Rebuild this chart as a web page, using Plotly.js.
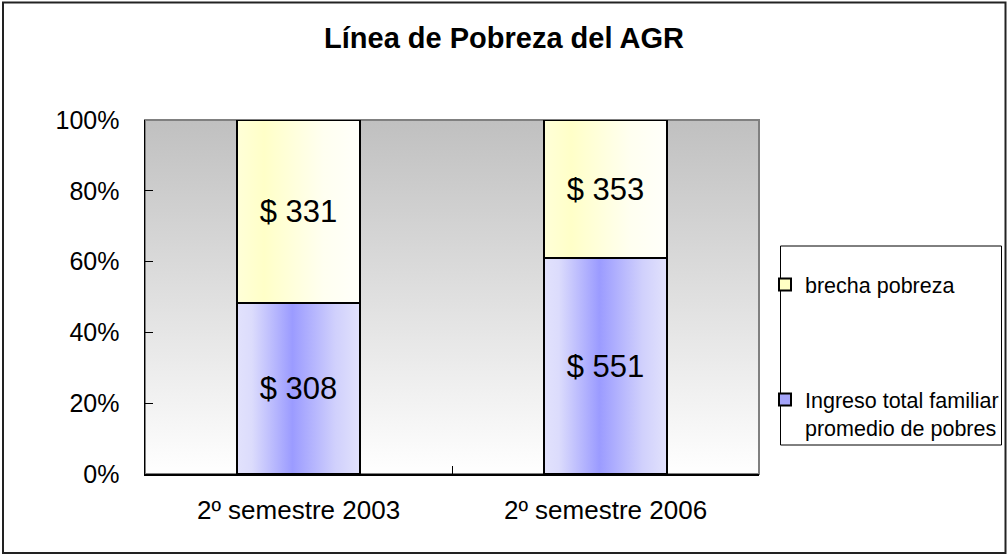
<!DOCTYPE html>
<html>
<head>
<meta charset="utf-8">
<script src="https://cdn.plot.ly/plotly-3.0.1.min.js"></script>
<style>
html,body{margin:0;padding:0;background:#fff;}
#chart{width:1008px;height:555px;}
</style>
</head>
<body>
<div id="chart"></div>
<script>
const categories = ['2º semestre 2003', '2º semestre 2006'];
const ingresoValues = [308, 551];
const brechaValues = [331, 353];
const seriesNames = ['Ingreso total familiar<br>promedio de pobres', 'brecha pobreza'];
const yTickVals = [0, 20, 40, 60, 80, 100];
const yTickText = ['0%', '20%', '40%', '60%', '80%', '100%'];

const FONT = '"Liberation Sans", Arial, sans-serif';

const traces = [
  {
    type: 'bar', name: seriesNames[0], x: categories, y: ingresoValues,
    text: ingresoValues.map(v => '$ ' + v),
    textposition: 'inside', insidetextanchor: 'middle', constraintext: 'none', textangle: 0,
    insidetextfont: {family: FONT, size: 31, color: '#000'},
    marker: {color: '#a4a4fa', line: {color: '#000', width: 2}},
    width: 0.4, legendgroup: 'b', legendrank: 2, hoverinfo: 'skip'
  },
  {
    type: 'bar', name: seriesNames[1], x: categories, y: brechaValues,
    text: brechaValues.map(v => '$ ' + v),
    textposition: 'inside', insidetextanchor: 'middle', constraintext: 'none', textangle: 0,
    insidetextfont: {family: FONT, size: 31, color: '#000'},
    marker: {color: '#ffffc4', line: {color: '#000', width: 2}},
    width: 0.4, legendgroup: 'a', legendrank: 1, hoverinfo: 'skip'
  }
];

const L = 145, R = 759, T = 120, B = 474;
const px = x => (x - L) / (R - L);
const py = y => (B - y) / (B - T);

const layout = {
  width: 1008, height: 555,
  margin: {l: L, r: 1008 - R, t: T, b: 555 - B, pad: 0, autoexpand: false},
  paper_bgcolor: '#ffffff',
  plot_bgcolor: '#e0e0e0',
  barmode: 'stack', barnorm: 'percent',
  font: {family: FONT, color: '#000'},
  title: {
    text: '<b>Línea de Pobreza del AGR</b>',
    font: {family: FONT, size: 29, color: '#000'},
    x: 0.5, xref: 'container', xanchor: 'center',
    y: 1 - 38 / 555, yref: 'container', yanchor: 'middle'
  },
  xaxis: {
    type: 'category', range: [-0.5, 1.5],
    showline: true, linecolor: '#000', linewidth: 1.5,
    ticks: 'inside', tickson: 'boundaries', ticklen: 8, tickcolor: '#000', tickwidth: 1,
    tickfont: {family: FONT, size: 26, color: '#000'},
    ticklabelstandoff: 12,
    showgrid: false, zeroline: false, fixedrange: true, automargin: false
  },
  yaxis: {
    range: [0, 100], tickvals: yTickVals, ticktext: yTickText,
    showline: true, linecolor: '#000', linewidth: 1.5,
    ticks: 'inside', ticklen: 8, tickcolor: '#000', tickwidth: 1,
    tickfont: {family: FONT, size: 25, color: '#000'},
    ticklabelstandoff: 19,
    showgrid: false, zeroline: false, fixedrange: true, automargin: false
  },
  showlegend: true,
  legend: {
    x: px(765), xanchor: 'left', y: py(264), yanchor: 'top',
    bgcolor: 'rgba(0,0,0,0)', borderwidth: 0,
    font: {family: FONT, size: 21.5, color: '#000'},
    traceorder: 'grouped', tracegroupgap: 84, valign: 'top'
  },
  shapes: [
    {type: 'rect', xref: 'paper', yref: 'paper', x0: 0, x1: 1, y0: 0, y1: 1,
     line: {color: '#808080', width: 2}, layer: 'below'},
    {type: 'rect', xref: 'paper', yref: 'paper', x0: px(780.5), x1: px(1001.5), y0: py(445), y1: py(246),
     line: {color: '#000', width: 1}, fillcolor: 'rgba(0,0,0,0)'},
    {type: 'rect', xref: 'paper', yref: 'paper', x0: px(3), x1: px(1005.5), y0: py(553), y1: py(2.5),
     line: {color: '#222', width: 2}, fillcolor: 'rgba(0,0,0,0)'}
  ],
  hovermode: false
};

Plotly.newPlot('chart', traces, layout, {displayModeBar: false, staticPlot: true}).then(gd => {
  const NS = 'http://www.w3.org/2000/svg';
  const svg = gd.querySelector('svg.main-svg');
  let defs = svg.querySelector('defs');
  if (!defs) { defs = document.createElementNS(NS, 'defs'); svg.insertBefore(defs, svg.firstChild); }
  function grad(id, stops, vertical) {
    const g = document.createElementNS(NS, 'linearGradient');
    g.setAttribute('id', id);
    g.setAttribute('x1', '0'); g.setAttribute('y1', '0');
    g.setAttribute('x2', vertical ? '0' : '1'); g.setAttribute('y2', vertical ? '1' : '0');
    stops.forEach(([o, c]) => {
      const s = document.createElementNS(NS, 'stop');
      s.setAttribute('offset', o); s.setAttribute('stop-color', c);
      g.appendChild(s);
    });
    defs.appendChild(g);
  }
  grad('gBlue', [['0', '#e2e2fc'], ['0.12', '#dcdcfc'], ['0.45', '#9b9bff'], ['0.8', '#d0d0fc'], ['1', '#e2e2fc']]);
  grad('gYellow', [['0', '#ffffd8'], ['0.22', '#ffffc8'], ['0.7', '#fffff0'], ['1', '#fffffa']]);
  grad('gBg', [['0', '#c0c0c0'], ['1', '#ffffff']], true);
  const ids = ['gBlue', 'gYellow'];
  gd.querySelectorAll('.barlayer .trace').forEach((t, i) => {
    t.querySelectorAll('.point path').forEach(p => { p.style.fill = 'url(#' + ids[i] + ')'; });
  });
  gd.querySelectorAll('rect.bg').forEach(r => { r.style.fill = 'url(#gBg)'; });
});
</script>
</body>
</html>
